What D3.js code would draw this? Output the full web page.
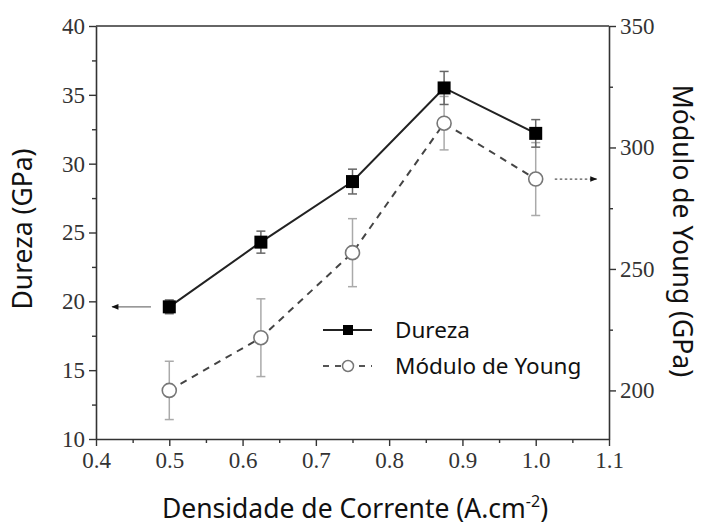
<!DOCTYPE html>
<html>
<head>
<meta charset="utf-8">
<script src="https://cdn.jsdelivr.net/npm/d3@7"></script>
<style>
  html, body { margin: 0; padding: 0; background: #fff; }
  svg { display: block; }
  .tick text { font-family: "Liberation Serif", "Times New Roman", serif; font-size: 23px; fill: #333; }
  .lbl { font-family: "Noto Sans", "Open Sans", sans-serif; fill: #111; }
</style>
</head>
<body>
<div id="chart"></div>
<script>
// current density (A.cm-2)
const densidade = [0.5, 0.625, 0.75, 0.875, 1.0];
// hardness (GPa), left axis
const dureza = [19.6, 24.3, 28.7, 35.5, 32.2];
const durezaErr = [0.5, 0.8, 0.9, 1.2, 1.0];
// Young's modulus (GPa), right axis
const young = [200, 221.7, 256.7, 310, 287];
const youngErr = [12, 16, 14, 11, 15];

const xTicks = [0.4, 0.5, 0.6, 0.7, 0.8, 0.9, 1.0, 1.1];
const yLeftTicks = [10, 15, 20, 25, 30, 35, 40];
const yRightTicks = [200, 250, 300, 350];

const width = 705, height = 525;
const margin = { top: 26, right: 96, bottom: 86, left: 96 };

const svg = d3.select("#chart").append("svg")
  .attr("width", width)
  .attr("height", height);

const x = d3.scaleLinear().domain([0.4, 1.1]).range([margin.left, width - margin.right]);
const yL = d3.scaleLinear().domain([10, 40]).range([height - margin.bottom, margin.top]);
const yR = d3.scaleLinear().domain([180, 350]).range([height - margin.bottom, margin.top]);

const x0 = x.range()[0], x1 = x.range()[1];
const yB = yL.range()[0], yT = yL.range()[1];

// minor ticks
const minor = (major) => major.slice(0, -1).map((d, i) => (d + major[i + 1]) / 2);

function styleAxis(g) {
  g.select(".domain").attr("stroke", "#333").attr("stroke-width", 1.6);
  g.selectAll(".tick line").attr("stroke", "#333").attr("stroke-width", 1.4);
}

// major axes
svg.append("g")
  .attr("transform", `translate(0,${yB})`)
  .call(d3.axisBottom(x).tickValues(xTicks).tickFormat(d3.format(".1f")).tickSize(7).tickSizeOuter(0).tickPadding(6))
  .call(styleAxis);
svg.append("g")
  .attr("transform", `translate(${x0},0)`)
  .call(d3.axisLeft(yL).tickValues(yLeftTicks).tickSize(7).tickSizeOuter(0).tickPadding(4))
  .call(styleAxis);
svg.append("g")
  .attr("transform", `translate(${x1},0)`)
  .call(d3.axisRight(yR).tickValues(yRightTicks).tickSize(7).tickSizeOuter(0).tickPadding(4))
  .call(styleAxis);

// minor ticks
svg.append("g")
  .attr("transform", `translate(0,${yB})`)
  .call(d3.axisBottom(x).tickValues(minor(xTicks)).tickSize(4).tickFormat(""))
  .call(g => g.select(".domain").remove())
  .call(styleAxis);
svg.append("g")
  .attr("transform", `translate(${x0},0)`)
  .call(d3.axisLeft(yL).tickValues(minor(yLeftTicks)).tickSize(4).tickFormat(""))
  .call(g => g.select(".domain").remove())
  .call(styleAxis);
svg.append("g")
  .attr("transform", `translate(${x1},0)`)
  .call(d3.axisRight(yR).tickValues([225, 275, 325]).tickSize(4).tickFormat(""))
  .call(g => g.select(".domain").remove())
  .call(styleAxis);

// top frame line
svg.append("line")
  .attr("x1", x0).attr("x2", x1).attr("y1", yT).attr("y2", yT)
  .attr("stroke", "#333").attr("stroke-width", 1.6);

// arrows
const defs = svg.append("defs");
defs.append("marker")
  .attr("id", "arrowhead")
  .attr("viewBox", "0 0 10 10")
  .attr("refX", 9).attr("refY", 5)
  .attr("markerWidth", 10).attr("markerHeight", 7)
  .attr("markerUnits", "userSpaceOnUse")
  .attr("orient", "auto")
  .append("path").attr("d", "M0,1L10,5L0,9Z").attr("fill", "#111");

svg.append("line")
  .attr("x1", x(0.475)).attr("x2", x(0.422))
  .attr("y1", yL(dureza[0])).attr("y2", yL(dureza[0]))
  .attr("stroke", "#777").attr("stroke-width", 1.3)
  .attr("marker-end", "url(#arrowhead)");
svg.append("line")
  .attr("x1", x(1.026)).attr("x2", x(1.083))
  .attr("y1", yR(young[4])).attr("y2", yR(young[4]))
  .attr("stroke", "#555").attr("stroke-width", 1.3)
  .attr("stroke-dasharray", "2.5,2.5")
  .attr("marker-end", "url(#arrowhead)");

// error bars
function errorBars(vals, errs, y, color) {
  const g = svg.append("g").attr("stroke", color).attr("stroke-width", 1.5);
  densidade.forEach((d, i) => {
    const cx = x(d), top = y(vals[i] + errs[i]), bot = y(vals[i] - errs[i]);
    g.append("line").attr("x1", cx).attr("x2", cx).attr("y1", top).attr("y2", bot);
    g.append("line").attr("x1", cx - 4.5).attr("x2", cx + 4.5).attr("y1", top).attr("y2", top);
    g.append("line").attr("x1", cx - 4.5).attr("x2", cx + 4.5).attr("y1", bot).attr("y2", bot);
  });
}
errorBars(young, youngErr, yR, "#aaa");
errorBars(dureza, durezaErr, yL, "#666");

// lines
const lineL = d3.line().x((d, i) => x(densidade[i])).y(d => yL(d));
const lineR = d3.line().x((d, i) => x(densidade[i])).y(d => yR(d));

svg.append("path").datum(young).attr("d", lineR)
  .attr("fill", "none").attr("stroke", "#444").attr("stroke-width", 2)
  .attr("stroke-dasharray", "7,6");
svg.append("path").datum(dureza).attr("d", lineL)
  .attr("fill", "none").attr("stroke", "#222").attr("stroke-width", 2);

// markers
svg.selectAll(".mk-young").data(young).join("circle")
  .attr("class", "mk-young")
  .attr("cx", (d, i) => x(densidade[i])).attr("cy", d => yR(d))
  .attr("r", 7).attr("fill", "#fff").attr("stroke", "#777").attr("stroke-width", 1.6);
svg.selectAll(".mk-dur").data(dureza).join("rect")
  .attr("class", "mk-dur")
  .attr("x", (d, i) => x(densidade[i]) - 6.5).attr("y", d => yL(d) - 6.5)
  .attr("width", 13).attr("height", 13).attr("fill", "#000");

// legend
const legend = svg.append("g").attr("transform", "translate(323,330)");
legend.append("line").attr("x1", 0).attr("x2", 49).attr("y1", 0).attr("y2", 0)
  .attr("stroke", "#222").attr("stroke-width", 2);
legend.append("rect").attr("x", 20).attr("y", -5).attr("width", 10).attr("height", 10).attr("fill", "#000");
legend.append("text").attr("class", "lbl").attr("font-size", 22.5).attr("x", 72).attr("y", 8).text("Dureza");

legend.append("line").attr("x1", 0).attr("x2", 49).attr("y1", 36).attr("y2", 36)
  .attr("stroke", "#555").attr("stroke-width", 2).attr("stroke-dasharray", "6,6");
legend.append("circle").attr("cx", 25).attr("cy", 36).attr("r", 5.5)
  .attr("fill", "#fff").attr("stroke", "#777").attr("stroke-width", 1.5);
legend.append("text").attr("class", "lbl").attr("font-size", 22.5).attr("x", 72).attr("y", 44).text("Módulo de Young");

// axis titles
svg.append("text").attr("class", "lbl").attr("font-size", 26.5)
  .attr("transform", "translate(32,229) rotate(-90)")
  .attr("text-anchor", "middle")
  .text("Dureza (GPa)");

svg.append("text").attr("class", "lbl").attr("font-size", 26.5)
  .attr("transform", "translate(673,231) rotate(90)")
  .attr("text-anchor", "middle")
  .text("Módulo de Young (GPa)");

const xl = svg.append("text").attr("class", "lbl").attr("font-size", 26.5)
  .attr("x", 355).attr("y", 518)
  .attr("text-anchor", "middle");
xl.append("tspan").text("Densidade de Corrente (A.cm");
xl.append("tspan").attr("dy", -11).attr("font-size", 16).text("-2");
xl.append("tspan").attr("dy", 11).text(")");
</script>
</body>
</html>
